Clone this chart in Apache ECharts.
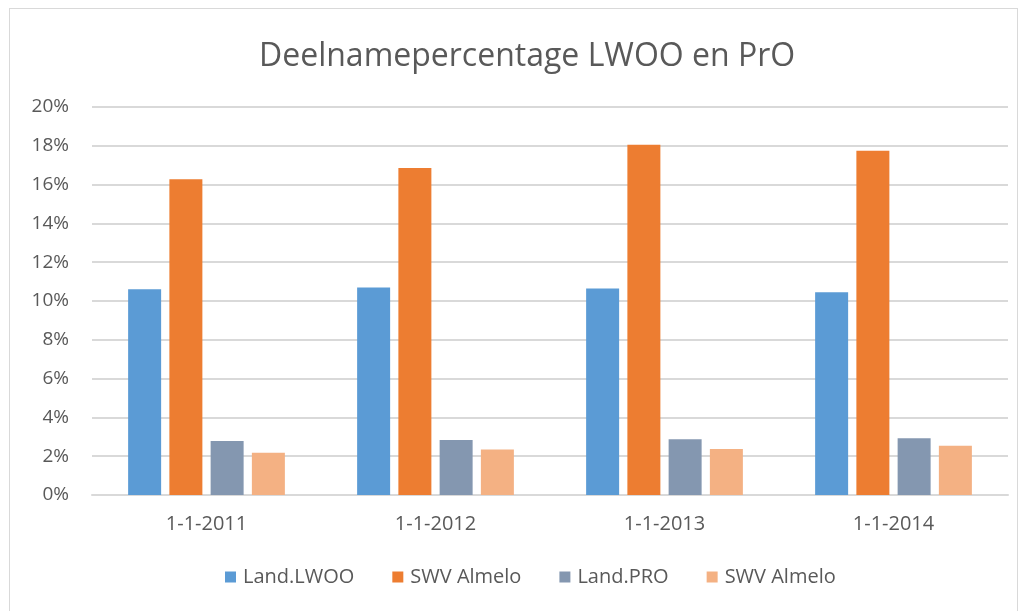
<!DOCTYPE html>
<html>
<head>
<meta charset="utf-8">
<script src="https://cdn.jsdelivr.net/npm/echarts@6/dist/echarts.min.js"></script>
<style>
  html, body { margin: 0; padding: 0; background: #ffffff; }
  #frame { position: absolute; left: 9px; top: 8px; width: 1009px; height: 610px; border: 1px solid #d9d9d9; box-sizing: border-box; }
  #main { width: 1026px; height: 611px; position: absolute; left: 0; top: 0; }
</style>
</head>
<body>
<div id="frame"></div>
<div id="main"></div>
<script>
var categories = ['1-1-2011', '1-1-2012', '1-1-2013', '1-1-2014'];
var landLwoo = [10.6, 10.7, 10.65, 10.45];
var swvAlmeloLwoo = [16.27, 16.85, 18.05, 17.75];
var landPro = [2.78, 2.83, 2.88, 2.92];
var swvAlmeloPro = [2.18, 2.35, 2.37, 2.54];
var seriesNames = ['Land.LWOO', 'SWV Almelo', 'Land.PRO', 'SWV Almelo '];
var colors = ['#5b9bd5', '#ed7d31', '#8497b0', '#f4b183'];

var myChart = echarts.init(document.getElementById('main'));
var font = "'Open Sans', sans-serif";

function bar(name, data, color) {
    return {
        name: name,
        type: 'bar',
        data: data,
        barWidth: 33,
        barGap: '25%',
        itemStyle: { color: color },
        emphasis: { disabled: true }
    };
}

myChart.setOption({
    animation: false,
    title: {
        text: 'Deelnamepercentage LWOO en PrO',
        left: 254,
        top: 36,
        textStyle: { color: '#595959', fontSize: 32, fontWeight: 'normal', fontFamily: font }
    },
    legend: {
        data: seriesNames,
        bottom: 19,
        left: 220,
        icon: 'rect',
        itemWidth: 11,
        itemHeight: 11,
        itemGap: 38,
        textStyle: { color: '#595959', fontSize: 20, fontFamily: font, padding: [0, 0, 0, 2] },
        formatter: function (n) { return n.trim(); }
    },
    grid: {
        left: 92,
        right: 18,
        top: 107,
        bottom: 116
    },
    xAxis: {
        type: 'category',
        data: categories,
        axisLine: { lineStyle: { color: '#d9d9d9', width: 2 } },
        axisTick: { show: false },
        axisLabel: { color: '#595959', fontSize: 20, fontFamily: font, margin: 19 }
    },
    yAxis: {
        type: 'value',
        min: 0,
        max: 20,
        interval: 2,
        axisLine: { show: false },
        axisTick: { show: false },
        splitLine: { lineStyle: { color: '#d9d9d9', width: 2 } },
        axisLabel: {
            color: '#595959', fontSize: 19, fontFamily: font, margin: 23,
            formatter: function (v) { return v + '%'; }
        }
    },
    series: [
        bar(seriesNames[0], landLwoo, colors[0]),
        bar(seriesNames[1], swvAlmeloLwoo, colors[1]),
        bar(seriesNames[2], landPro, colors[2]),
        bar(seriesNames[3], swvAlmeloPro, colors[3])
    ]
});
</script>
</body>
</html>
